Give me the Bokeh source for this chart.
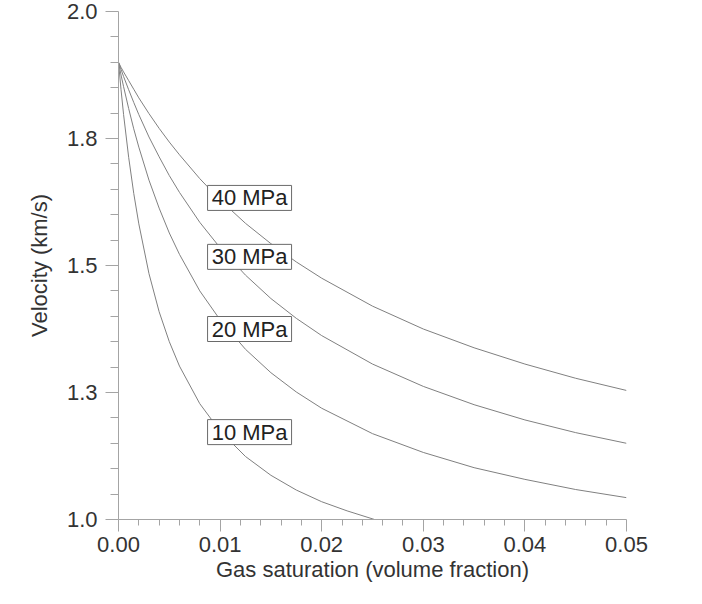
from bokeh.plotting import figure
from bokeh.models import Range1d, FixedTicker, ColumnDataSource
from bokeh.embed import file_html
from bokeh.resources import INLINE
from bokeh.core.properties import value

# ---- data ----
sat = [0.0, 0.00025, 0.0005, 0.001, 0.0015, 0.002, 0.003, 0.004, 0.005, 0.006,
       0.008, 0.010, 0.0125, 0.015, 0.0175, 0.020, 0.025, 0.030, 0.035, 0.040,
       0.045, 0.050]
vel_40 = [1.900, 1.890, 1.881, 1.864, 1.847, 1.830, 1.799, 1.770, 1.743, 1.718,
          1.671, 1.629, 1.583, 1.543, 1.507, 1.475, 1.420, 1.375, 1.338, 1.306,
          1.278, 1.254]
vel_30 = [1.900, 1.886, 1.872, 1.846, 1.821, 1.797, 1.753, 1.714, 1.677, 1.644,
          1.585, 1.535, 1.481, 1.435, 1.396, 1.362, 1.306, 1.262, 1.226, 1.196,
          1.171, 1.150]
vel_20 = [1.900, 1.875, 1.852, 1.809, 1.769, 1.733, 1.668, 1.613, 1.564, 1.522,
          1.450, 1.393, 1.335, 1.289, 1.251, 1.219, 1.169, 1.132, 1.102, 1.079,
          1.059, 1.043]
sat_10 = [0.0, 0.00025, 0.0005, 0.001, 0.0015, 0.002, 0.003, 0.004, 0.005, 0.006,
          0.008, 0.010, 0.0125, 0.015, 0.0175, 0.020, 0.0225, 0.0252]
vel_10 = [1.900, 1.846, 1.797, 1.713, 1.642, 1.582, 1.484, 1.409, 1.350, 1.302,
          1.228, 1.174, 1.124, 1.087, 1.058, 1.035, 1.017, 1.000]

pressure_labels = ["40 MPa", "30 MPa", "20 MPa", "10 MPa"]
label_x = [0.0129, 0.0129, 0.0129, 0.0129]
label_y = [1.633, 1.517, 1.375, 1.172]

x_title = "Gas saturation (volume fraction)"
y_title = "Velocity (km/s)"
x_ticks = [0.0, 0.01, 0.02, 0.03, 0.04, 0.05]
x_tick_labels = ["0.00", "0.01", "0.02", "0.03", "0.04", "0.05"]
x_minor = [0.002, 0.004, 0.006, 0.008, 0.012, 0.014, 0.016, 0.018, 0.022, 0.024,
           0.026, 0.028, 0.032, 0.034, 0.036, 0.038, 0.042, 0.044, 0.046, 0.048]
y_ticks = [1.0, 1.25, 1.5, 1.75, 2.0]
y_tick_labels = ["1.0", "1.3", "1.5", "1.8", "2.0"]
y_minor = [1.05, 1.10, 1.15, 1.20, 1.30, 1.35, 1.40, 1.45, 1.55, 1.60, 1.65, 1.70,
           1.80, 1.85, 1.90, 1.95]

FONT = "Liberation Sans"
AXIS_COL = "#a4a4a4"
TEXT_COL = "#333333"
CURVE_COL = "#808080"

p = figure(width=686, height=588, output_backend="svg", toolbar_location=None,
           x_range=Range1d(0.0, 0.05), y_range=Range1d(1.0, 2.0),
           min_border_left=118, min_border_right=60, min_border_top=11,
           min_border_bottom=69)
p.outline_line_color = None
p.grid.visible = False
p.background_fill_color = "white"
p.border_fill_color = "white"

for xs, ys in [(sat, vel_40), (sat, vel_30), (sat, vel_20), (sat_10, vel_10)]:
    p.line(xs, ys, line_color=CURVE_COL, line_width=1)

src = ColumnDataSource(dict(x=label_x, y=label_y, t=pressure_labels))
p.rect(x="x", y="y", width=84, height=25, width_units="screen", height_units="screen",
       fill_color="white", line_color="#6a6a6a", line_width=1, source=src)
p.text(x="x", y="y", text="t", text_font=value(FONT), text_font_size="22px",
       text_color="#222222", text_align="center", text_baseline="middle", source=src)

xa = p.xaxis[0]
xa.ticker = FixedTicker(ticks=x_ticks, minor_ticks=x_minor)
xa.major_label_overrides = {t: l for t, l in zip(x_ticks, x_tick_labels)}
xa.axis_label = x_title
xa.major_tick_out = 12
xa.minor_tick_out = 6
xa.major_label_standoff = 5
xa.axis_label_standoff = 2

ya = p.yaxis[0]
ya.ticker = FixedTicker(ticks=y_ticks, minor_ticks=y_minor)
ya.major_label_overrides = {t: l for t, l in zip(y_ticks, y_tick_labels)}
ya.axis_label = y_title
ya.major_tick_out = 13
ya.minor_tick_out = 8
ya.major_label_standoff = 8
ya.axis_label_standoff = 12

for ax in (xa, ya):
    ax.major_tick_in = 0
    ax.minor_tick_in = 0
    ax.axis_line_color = AXIS_COL
    ax.major_tick_line_color = AXIS_COL
    ax.minor_tick_line_color = AXIS_COL
    ax.major_label_text_font = FONT
    ax.major_label_text_font_size = "22px"
    ax.major_label_text_color = TEXT_COL
    ax.axis_label_text_font = FONT
    ax.axis_label_text_font_size = "22px"
    ax.axis_label_text_font_style = "normal"
    ax.axis_label_text_color = TEXT_COL

open("out.html", "w").write(file_html(p, INLINE))
